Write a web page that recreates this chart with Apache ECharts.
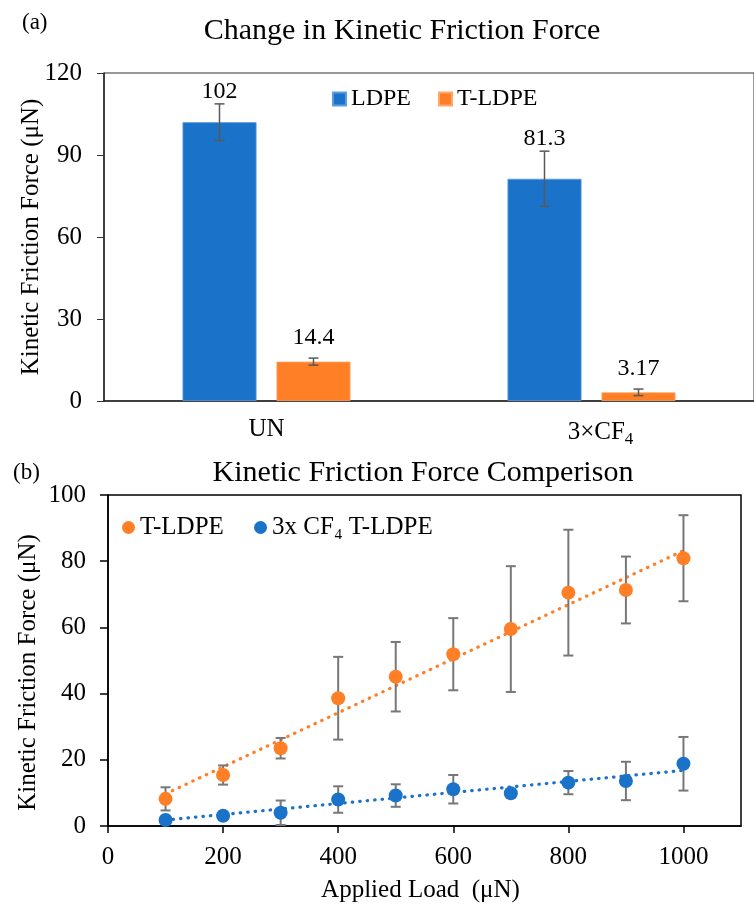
<!DOCTYPE html>
<html>
<head>
<meta charset="utf-8">
<script src="https://cdn.jsdelivr.net/npm/echarts@6/dist/echarts.min.js"></script>
<style>html,body{margin:0;padding:0;background:#fff}#c{width:754px;height:905px}</style>
</head>
<body>
<div id="c"></div>
<script>
// ---- Panel (a) data ----
const barCategories = ['UN', '3×CF4'];
const ldpeValues = [102, 81.3];
const ldpeErrors = [6.7, 10.1];
const tldpeValues = [14.4, 3.17];
const tldpeErrors = [1.3, 1.2];
const barTicks = [0, 30, 60, 90, 120];

// ---- Panel (b) data ----
const loads = [100, 200, 300, 400, 500, 600, 700, 800, 900, 1000];
const tldpeForce = [8.2, 15.4, 23.5, 38.6, 45.1, 51.9, 59.5, 70.5, 71.3, 80.9];
const tldpeForceErr = [3.5, 2.9, 3.1, 12.5, 10.5, 10.9, 19.0, 19.0, 10.1, 13.0];
const cf4Force = [1.8, 3.1, 4.0, 8.0, 9.2, 11.1, 9.9, 13.1, 13.6, 18.8];
const cf4ForceErr = [0.8, 0.6, 3.7, 4.0, 3.4, 4.3, 1.2, 3.5, 5.8, 8.1];
const trendLoads = [100, 1000];
const tldpeTrend = [9.7, 83.2];
const cf4Trend = [1.8, 16.8];

const FONT = 'Liberation Serif';
const BLUE = '#1A72C9';
const ORANGE = '#FF7F27';

const chart = echarts.init(document.getElementById('c'), null, {renderer: 'canvas'});

// error bar + value label (label sits above the error bar top)
function barErrRender(offset, color, labelGap) {
  return function (params, api) {
    const cat = api.value(0);
    const v = api.value(1), e = api.value(2);
    const top = api.coord([cat, v + e]);
    const bot = api.coord([cat, v - e]);
    const x = top[0] + offset;
    const half = 5;
    const style = {stroke: color, lineWidth: 1.5};
    return {type: 'group', children: [
      {type: 'line', shape: {x1: x, y1: top[1], x2: x, y2: bot[1]}, style},
      {type: 'line', shape: {x1: x - half, y1: top[1], x2: x + half, y2: top[1]}, style},
      {type: 'line', shape: {x1: x - half, y1: bot[1], x2: x + half, y2: bot[1]}, style},
      {type: 'text', x: x, y: top[1] - labelGap, style: {
        text: String(v), fontFamily: FONT, fontSize: 24, fill: '#000',
        align: 'center', verticalAlign: 'middle'}}
    ]};
  };
}
function scatterErrRender(params, api) {
  const x = api.value(0), v = api.value(1), e = api.value(2);
  const top = api.coord([x, v + e]);
  const bot = api.coord([x, Math.max(v - e, 0)]);
  const half = 5;
  const style = {stroke: '#777777', lineWidth: 2};
  return {type: 'group', children: [
    {type: 'line', shape: {x1: top[0], y1: top[1], x2: top[0], y2: bot[1]}, style},
    {type: 'line', shape: {x1: top[0] - half, y1: top[1], x2: top[0] + half, y2: top[1]}, style},
    {type: 'line', shape: {x1: top[0] - half, y1: bot[1], x2: top[0] + half, y2: bot[1]}, style}
  ]};
}

const option = {
  animation: false,
  backgroundColor: '#ffffff',
  textStyle: {fontFamily: FONT, color: '#000'},
  graphic: [
    {type: 'text', x: 22, y: 23, style: {text: '(a)', fontFamily: FONT, fontSize: 23, fill: '#000', verticalAlign: 'middle'}},
    {type: 'text', x: 402, y: 31, style: {text: 'Change in Kinetic Friction Force', fontFamily: FONT, fontSize: 30, fill: '#000', align: 'center', verticalAlign: 'middle'}},
    {type: 'text', x: 13, y: 473, style: {text: '(b)', fontFamily: FONT, fontSize: 23, fill: '#000', verticalAlign: 'middle'}},
    {type: 'text', x: 423, y: 473, style: {text: 'Kinetic Friction Force Comperison', fontFamily: FONT, fontSize: 30, fill: '#000', align: 'center', verticalAlign: 'middle'}}
  ],
  legend: [
    {
      left: 327, top: 82, itemWidth: 13, itemHeight: 13, itemGap: 27,
      data: [{name: 'LDPE', icon: 'rect'}, {name: 'T-LDPE', icon: 'rect'}],
      textStyle: {fontFamily: FONT, fontSize: 24, color: '#000'}
    },
    {
      left: 117, top: 510, itemWidth: 13, itemHeight: 13, itemGap: 24,
      data: [{name: 'T-LDPE ', icon: 'circle'}, {name: '3x CF₄ T-LDPE', icon: 'circle'}],
      textStyle: {fontFamily: FONT, fontSize: 25, color: '#000'}
    }
  ],
  grid: [
    {left: 104, top: 73, width: 660, height: 328, show: true, borderColor: '#333', borderWidth: 1, containLabel: false},
    {left: 108, top: 495, width: 633, height: 331, show: true, borderColor: '#000', borderWidth: 1.5, containLabel: false}
  ],
  xAxis: [
    {
      gridIndex: 0, type: 'category', data: barCategories,
      axisLine: {lineStyle: {color: '#222', width: 1.5}},
      axisTick: {show: false},
      axisLabel: {
        margin: 16, fontFamily: FONT, fontSize: 25, color: '#000',
        formatter: v => v === '3×CF4' ? '{sp|}3×CF{sub|4}' : v,
        rich: {
          sp: {width: 18},
          sub: {fontFamily: FONT, fontSize: 17, color: '#000', padding: [14, 0, 0, 0]}
        }
      }
    },
    {
      gridIndex: 1, type: 'value', min: 0, max: 1100, interval: 200,
      axisLine: {lineStyle: {color: '#000', width: 1.5}},
      axisTick: {show: true, length: 7, inside: false, lineStyle: {color: '#000', width: 1.5}},
      axisLabel: {margin: 19, fontFamily: FONT, fontSize: 25, color: '#000', showMaxLabel: false,
        formatter: v => String(v)},
      splitLine: {show: false},
      name: 'Applied Load  (μN)', nameLocation: 'middle', nameGap: 52, nameMoveOverlap: false,
      nameTextStyle: {fontFamily: FONT, fontSize: 25, color: '#000', padding: [0, 8, 0, 0]}
    }
  ],
  yAxis: [
    {
      gridIndex: 0, type: 'value', min: 0, max: 120, interval: 30,
      axisLine: {show: true, lineStyle: {color: '#222', width: 1.5}},
      axisTick: {show: true, length: 7, lineStyle: {color: '#333', width: 1}},
      axisLabel: {margin: 22, fontFamily: FONT, fontSize: 25, color: '#000',
        formatter: v => barTicks.includes(v) ? String(v) : ''},
      splitLine: {show: false},
      name: 'Kinetic Friction Force (μN)', nameLocation: 'middle', nameGap: 60, nameRotate: 90,
      nameMoveOverlap: false,
      nameTextStyle: {fontFamily: FONT, fontSize: 25, color: '#000'}
    },
    {
      gridIndex: 1, type: 'value', min: 0, max: 100, interval: 20,
      axisLine: {show: true, lineStyle: {color: '#000', width: 1.5}},
      axisTick: {show: true, length: 8, lineStyle: {color: '#000', width: 1.5}},
      axisLabel: {margin: 22, fontFamily: FONT, fontSize: 25, color: '#000'},
      splitLine: {show: false},
      name: 'Kinetic Friction Force (μN)', nameLocation: 'middle', nameGap: 67, nameRotate: 90,
      nameMoveOverlap: false,
      nameTextStyle: {fontFamily: FONT, fontSize: 25, color: '#000', padding: [0, 24, 0, 0]}
    }
  ],
  series: [
    {
      name: 'LDPE', type: 'bar', xAxisIndex: 0, yAxisIndex: 0,
      data: ldpeValues, barWidth: 74, barGap: '27%',
      itemStyle: {color: BLUE, borderColor: '#5C9DE0', borderWidth: 0.8}
    },
    {
      name: 'T-LDPE', type: 'bar', xAxisIndex: 0, yAxisIndex: 0,
      data: tldpeValues, barWidth: 74, barGap: '27%',
      itemStyle: {color: ORANGE, borderColor: '#FFA66B', borderWidth: 0.8}
    },
    {
      type: 'custom', xAxisIndex: 0, yAxisIndex: 0, z: 5,
      renderItem: barErrRender(-47, '#595959', 12),
      data: barCategories.map((c, i) => [i, ldpeValues[i], ldpeErrors[i]])
    },
    {
      type: 'custom', xAxisIndex: 0, yAxisIndex: 0, z: 5,
      renderItem: barErrRender(47, '#595959', 20),
      data: barCategories.map((c, i) => [i, tldpeValues[i], tldpeErrors[i]])
    },
    {
      type: 'line', xAxisIndex: 1, yAxisIndex: 1, symbol: 'none', z: 2,
      data: trendLoads.map((x, i) => [x, tldpeTrend[i]]),
      lineStyle: {color: ORANGE, width: 3.2, type: [0.5, 7], cap: 'round'}
    },
    {
      type: 'line', xAxisIndex: 1, yAxisIndex: 1, symbol: 'none', z: 2,
      data: trendLoads.map((x, i) => [x, cf4Trend[i]]),
      lineStyle: {color: BLUE, width: 3.2, type: [0.5, 7], cap: 'round'}
    },
    {
      type: 'custom', xAxisIndex: 1, yAxisIndex: 1, z: 3,
      renderItem: scatterErrRender,
      data: loads.map((x, i) => [x, tldpeForce[i], tldpeForceErr[i]])
    },
    {
      type: 'custom', xAxisIndex: 1, yAxisIndex: 1, z: 3,
      renderItem: scatterErrRender,
      data: loads.map((x, i) => [x, cf4Force[i], cf4ForceErr[i]])
    },
    {
      name: 'T-LDPE ', type: 'scatter', xAxisIndex: 1, yAxisIndex: 1, z: 4,
      symbol: 'circle', symbolSize: 14,
      itemStyle: {color: ORANGE, opacity: 1},
      data: loads.map((x, i) => [x, tldpeForce[i]])
    },
    {
      name: '3x CF₄ T-LDPE', type: 'scatter', xAxisIndex: 1, yAxisIndex: 1, z: 4,
      symbol: 'circle', symbolSize: 14,
      itemStyle: {color: BLUE, opacity: 1},
      data: loads.map((x, i) => [x, cf4Force[i]])
    }
  ]
};
chart.setOption(option);
</script>
</body>
</html>
